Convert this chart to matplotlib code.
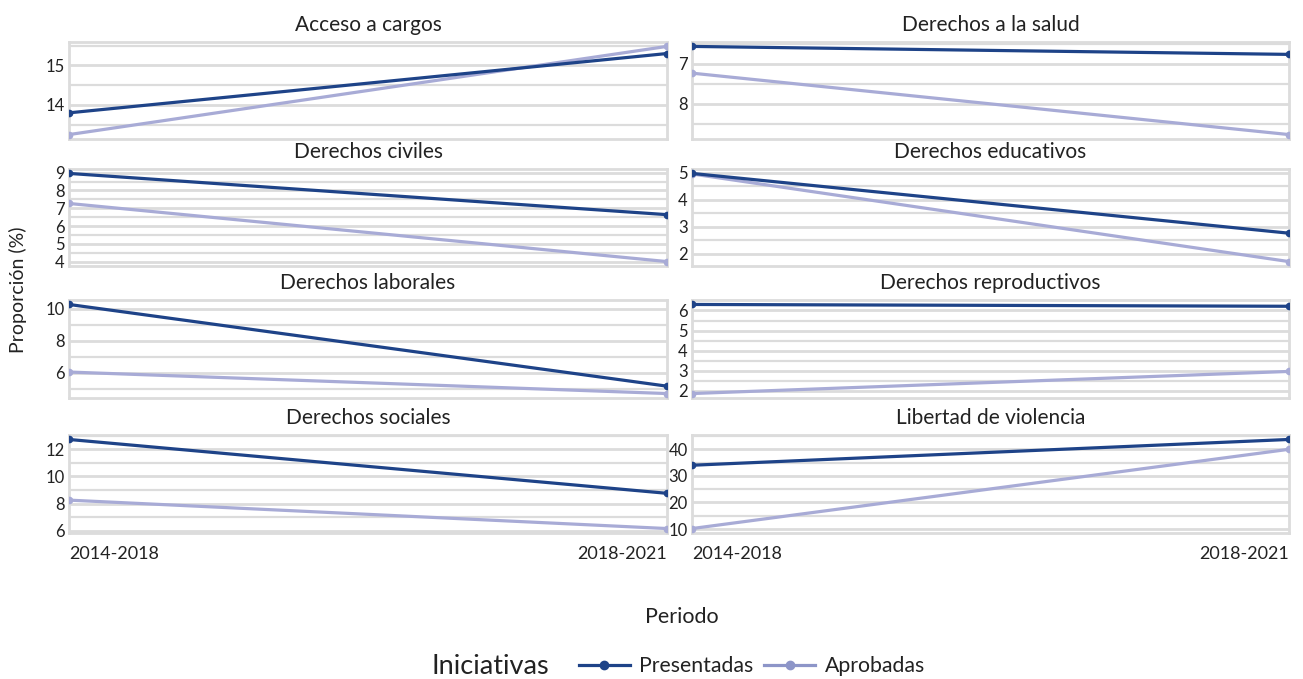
import matplotlib
matplotlib.use("Agg")
import matplotlib.pyplot as plt
from matplotlib.ticker import MultipleLocator
from matplotlib.lines import Line2D

plt.rcParams["font.family"] = ["Lato", "DejaVu Sans"]

# Datos por tema: proporción (%) de iniciativas en cada periodo
periodos = ["2014-2018", "2018-2021"]
temas = [
    "Acceso a cargos", "Derechos a la salud",
    "Derechos civiles", "Derechos educativos",
    "Derechos laborales", "Derechos reproductivos",
    "Derechos sociales", "Libertad de violencia",
]
presentadas = [
    [13.80, 15.30],
    [6.56, 6.76],
    [8.96, 6.64],
    [4.97, 2.76],
    [10.27, 5.18],
    [6.30, 6.21],
    [12.72, 8.76],
    [34.0, 43.7],
]
aprobadas = [
    [13.25, 15.48],
    [7.23, 8.77],
    [7.27, 4.00],
    [4.95, 1.71],
    [6.06, 4.72],
    [1.87, 2.97],
    [8.26, 6.17],
    [10.2, 40.0],
]
paso_y = [1, 1, 1, 1, 2, 1, 2, 10]
eje_invertido = [False, True, False, False, False, False, False, False]

COLOR_PRES = "#1e4388"
COLOR_APR = "#a8abd6"
COLOR_APR_LEG = "#8d95c8"
GRID = "#dcdcdc"
TEXT = "#222222"

W, H = 1303, 679
fig = plt.figure(figsize=(W / 100, H / 100), dpi=100)

# posiciones de los paneles en píxeles (x0, x1) y (y_top, y_bottom)
cols = [(69, 667), (692, 1289)]
rows = [(42, 139), (169, 266), (300, 398), (435, 533)]

for i, tema in enumerate(temas):
    r, c = divmod(i, 2)
    x0, x1 = cols[c]
    yt, yb = rows[r]
    ax = fig.add_axes([x0 / W, 1 - yb / H, (x1 - x0) / W, (yb - yt) / H])

    xs = range(len(periodos))
    ax.plot(xs, aprobadas[i], color=COLOR_APR, lw=2.3, marker="o", ms=4.5,
            solid_capstyle="round", zorder=3)
    ax.plot(xs, presentadas[i], color=COLOR_PRES, lw=2.3, marker="o", ms=4.5,
            solid_capstyle="round", zorder=4)

    ax.set_xlim(0, len(periodos) - 1)
    vals = presentadas[i] + aprobadas[i]
    lo, hi = min(vals), max(vals)
    pad = (hi - lo) * 0.05
    ax.set_ylim(lo - pad, hi + pad)
    if eje_invertido[i]:
        ax.invert_yaxis()

    ax.yaxis.set_major_locator(MultipleLocator(paso_y[i]))
    ax.yaxis.set_minor_locator(MultipleLocator(paso_y[i] / 2))
    ax.grid(True, which="major", axis="y", color=GRID, lw=2.0, zorder=0)
    ax.grid(True, which="minor", axis="y", color=GRID, lw=1.6, zorder=0)
    ax.set_axisbelow(True)

    for s in ax.spines.values():
        s.set_color(GRID)
        s.set_linewidth(2.0)

    ax.tick_params(axis="y", which="both", length=0, labelsize=12,
                   labelcolor=TEXT, pad=3)
    ax.tick_params(axis="x", length=0)
    ax.set_xticks([])

    ax.set_title(tema, fontsize=15, color=TEXT, pad=8)

    # etiquetas de periodo solo en la fila inferior
    if r == len(rows) - 1:
        ax.text(0, -0.13, periodos[0], transform=ax.get_xaxis_transform(),
                ha="left", va="top", fontsize=13, color=TEXT)
        ax.text(len(periodos) - 1, -0.13, periodos[-1],
                transform=ax.get_xaxis_transform(),
                ha="right", va="top", fontsize=13, color=TEXT)

fig.text(18 / W, 1 - 290 / H, "Proporción (%)", rotation=90,
         ha="center", va="center", fontsize=14, color=TEXT)
fig.text(682 / W, 1 - 617 / H, "Periodo", ha="center", va="center",
         fontsize=15.5, color=TEXT)

fig.text(432 / W, 1 - 666 / H, "Iniciativas", ha="left", va="center",
         fontsize=19.5, color=TEXT)
handles = [
    Line2D([], [], color=COLOR_PRES, lw=2.3, marker="o", ms=6),
    Line2D([], [], color=COLOR_APR_LEG, lw=2.3, marker="o", ms=6),
]
fig.legend(handles, ["Presentadas", "Aprobadas"], loc="center left",
           bbox_to_anchor=(568 / W, 1 - 666 / H), ncol=2, frameon=False,
           fontsize=15.3, handlelength=2.4, handletextpad=0.45,
           columnspacing=0.5, labelcolor=TEXT, borderpad=0)

fig.savefig("out.png", dpi=100)
